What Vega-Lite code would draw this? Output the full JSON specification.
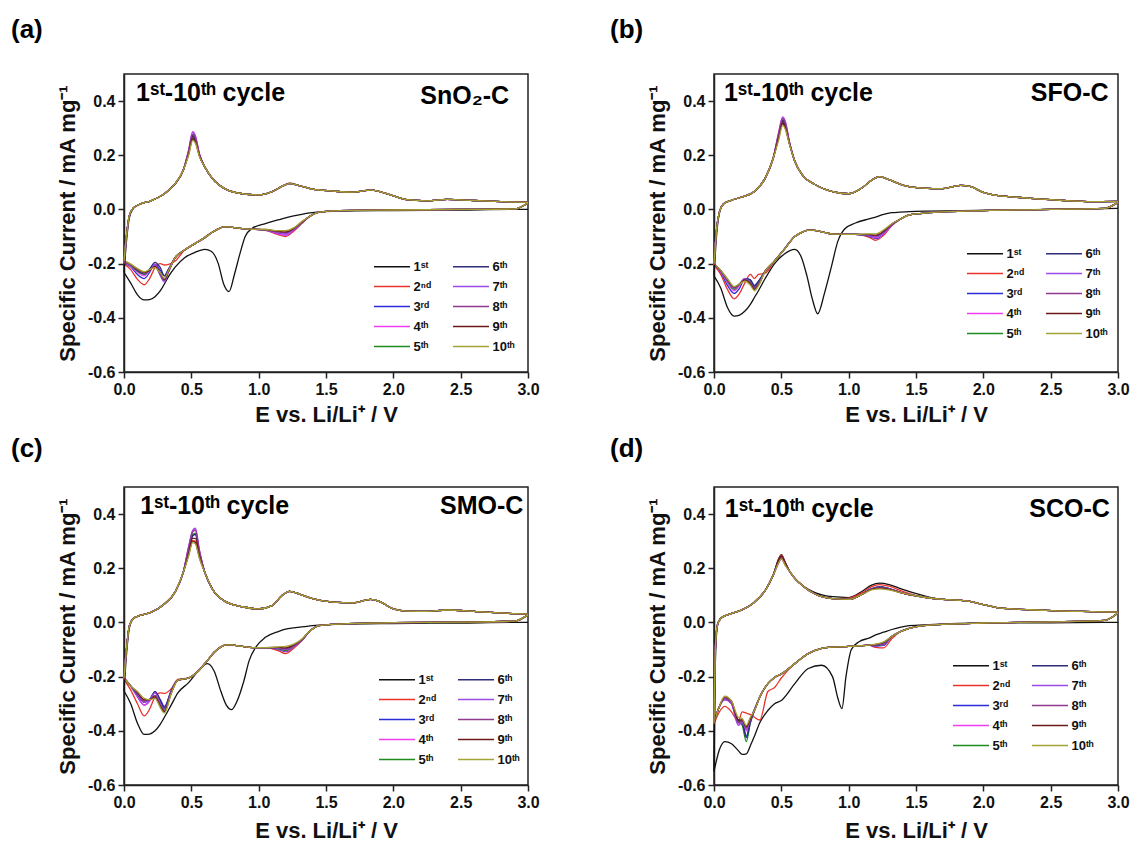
{
"$schema":"https://vega.github.io/schema/vega-lite/v6.json",
"background":"white",
"padding":{"left":10,"top":16,"right":5,"bottom":5},
"config":{
 "font":"Liberation Sans",
 "view":{"stroke":"#222","strokeWidth":1.5},
 "axis":{"grid":false,"domainColor":"#222","domainWidth":1.5,"tickColor":"#222","tickWidth":1.5,"labelFont":"Liberation Sans","labelFontSize":16,"labelFontWeight":"bold","labelColor":"#111","titleFont":"Liberation Sans","titleFontSize":22,"titleFontWeight":"bold","titleColor":"#111","labelOverlap":false,"labelFlush":false},
 "title":{"font":"Liberation Sans","fontSize":26,"fontWeight":"bold","anchor":"start","frame":"group","color":"#000"},
 "legend":{"orient":"none","columns":2,"title":null,"symbolType":"M-4,0H4","symbolSize":81,"symbolStrokeWidth":1.5,"symbolOffset":11.5,"labelOffset":15,"labelAlign":"left","labelFont":"Liberation Sans","labelFontSize":13,"labelFontWeight":"bold","labelColor":"#111","rowPadding":6,"columnPadding":19,"padding":0},
 "text":{"font":"Liberation Sans","fontSize":25,"fontWeight":"bold","color":"#000"}
},
"datasets":{"cv":[
{"p":"a","b":"k","x":3,"c1":0,"c2":0.024,"c3":0.024,"c4":0.024,"c5":0.024,"c6":0.024,"c7":0.024,"c8":0.024,"c9":0.024,"c10":0.024},
{"p":"a","b":"k","x":2.9,"c1":0,"c2":0.002,"c3":0.002,"c4":0.002,"c5":0.002,"c6":0.002,"c7":0.002,"c8":0.002,"c9":0.002,"c10":0.002},
{"p":"a","b":"k","x":2.5,"c1":-0.002,"c2":0,"c3":0,"c4":0,"c5":0,"c6":0,"c7":0,"c8":0,"c9":0,"c10":0},
{"p":"a","b":"k","x":2,"c1":-0.004,"c2":-0.002,"c3":-0.002,"c4":-0.002,"c5":-0.002,"c6":-0.002,"c7":-0.002,"c8":-0.002,"c9":-0.002,"c10":-0.002},
{"p":"a","b":"k","x":1.6,"c1":-0.006,"c2":-0.004,"c3":-0.004,"c4":-0.004,"c5":-0.004,"c6":-0.004,"c7":-0.004,"c8":-0.004,"c9":-0.004,"c10":-0.004},
{"p":"a","b":"k","x":1.45,"c1":-0.009,"c2":-0.01,"c3":-0.01,"c4":-0.01,"c5":-0.01,"c6":-0.01,"c7":-0.01,"c8":-0.01,"c9":-0.01,"c10":-0.01},
{"p":"a","b":"k","x":1.38,"c1":-0.013,"c2":-0.025,"c3":-0.025,"c4":-0.025,"c5":-0.025,"c6":-0.025,"c7":-0.025,"c8":-0.025,"c9":-0.025,"c10":-0.025},
{"p":"a","b":"k","x":1.32,"c1":-0.018,"c2":-0.052,"c3":-0.05,"c4":-0.05,"c5":-0.049,"c6":-0.048,"c7":-0.048,"c8":-0.047,"c9":-0.046,"c10":-0.045},
{"p":"a","b":"k","x":1.26,"c1":-0.024,"c2":-0.08,"c3":-0.076,"c4":-0.076,"c5":-0.073,"c6":-0.072,"c7":-0.073,"c8":-0.071,"c9":-0.07,"c10":-0.068},
{"p":"a","b":"k","x":1.2,"c1":-0.031,"c2":-0.1,"c3":-0.095,"c4":-0.095,"c5":-0.088,"c6":-0.088,"c7":-0.09,"c8":-0.085,"c9":-0.083,"c10":-0.078},
{"p":"a","b":"k","x":1.15,"c1":-0.038,"c2":-0.094,"c3":-0.09,"c4":-0.09,"c5":-0.085,"c6":-0.085,"c7":-0.086,"c8":-0.083,"c9":-0.081,"c10":-0.078},
{"p":"a","b":"k","x":1.05,"c1":-0.052,"c2":-0.077,"c3":-0.076,"c4":-0.076,"c5":-0.075,"c6":-0.075,"c7":-0.075,"c8":-0.075,"c9":-0.074,"c10":-0.074},
{"p":"a","b":"k","x":0.95,"c1":-0.07,"c2":-0.073,"c3":-0.073,"c4":-0.073,"c5":-0.073,"c6":-0.073,"c7":-0.073,"c8":-0.073,"c9":-0.073,"c10":-0.073},
{"p":"a","b":"k","x":0.9,"c1":-0.1,"c2":-0.072,"c3":-0.072,"c4":-0.072,"c5":-0.072,"c6":-0.072,"c7":-0.072,"c8":-0.072,"c9":-0.072,"c10":-0.072},
{"p":"a","b":"k","x":0.86,"c1":-0.165,"c2":-0.07,"c3":-0.07,"c4":-0.07,"c5":-0.07,"c6":-0.07,"c7":-0.07,"c8":-0.07,"c9":-0.07,"c10":-0.07},
{"p":"a","b":"k","x":0.82,"c1":-0.24,"c2":-0.067,"c3":-0.067,"c4":-0.067,"c5":-0.067,"c6":-0.067,"c7":-0.067,"c8":-0.067,"c9":-0.067,"c10":-0.067},
{"p":"a","b":"k","x":0.78,"c1":-0.303,"c2":-0.064,"c3":-0.064,"c4":-0.064,"c5":-0.064,"c6":-0.064,"c7":-0.064,"c8":-0.064,"c9":-0.064,"c10":-0.064},
{"p":"a","b":"k","x":0.74,"c1":-0.275,"c2":-0.064,"c3":-0.064,"c4":-0.064,"c5":-0.064,"c6":-0.064,"c7":-0.064,"c8":-0.064,"c9":-0.064,"c10":-0.064},
{"p":"a","b":"k","x":0.7,"c1":-0.2,"c2":-0.072,"c3":-0.072,"c4":-0.072,"c5":-0.072,"c6":-0.072,"c7":-0.072,"c8":-0.072,"c9":-0.072,"c10":-0.072},
{"p":"a","b":"k","x":0.65,"c1":-0.155,"c2":-0.086,"c3":-0.086,"c4":-0.086,"c5":-0.086,"c6":-0.086,"c7":-0.086,"c8":-0.086,"c9":-0.086,"c10":-0.086},
{"p":"a","b":"k","x":0.6,"c1":-0.147,"c2":-0.104,"c3":-0.104,"c4":-0.104,"c5":-0.104,"c6":-0.104,"c7":-0.104,"c8":-0.104,"c9":-0.104,"c10":-0.104},
{"p":"a","b":"k","x":0.52,"c1":-0.16,"c2":-0.128,"c3":-0.128,"c4":-0.128,"c5":-0.128,"c6":-0.128,"c7":-0.128,"c8":-0.128,"c9":-0.128,"c10":-0.128},
{"p":"a","b":"k","x":0.45,"c1":-0.178,"c2":-0.15,"c3":-0.15,"c4":-0.15,"c5":-0.15,"c6":-0.15,"c7":-0.15,"c8":-0.15,"c9":-0.15,"c10":-0.15},
{"p":"a","b":"k","x":0.38,"c1":-0.213,"c2":-0.19,"c3":-0.178,"c4":-0.178,"c5":-0.178,"c6":-0.178,"c7":-0.178,"c8":-0.178,"c9":-0.178,"c10":-0.178},
{"p":"a","b":"k","x":0.33,"c1":-0.248,"c2":-0.203,"c3":-0.22,"c4":-0.228,"c5":-0.226,"c6":-0.222,"c7":-0.232,"c8":-0.23,"c9":-0.228,"c10":-0.226},
{"p":"a","b":"k","x":0.3,"c1":-0.275,"c2":-0.205,"c3":-0.245,"c4":-0.262,"c5":-0.255,"c6":-0.245,"c7":-0.268,"c8":-0.262,"c9":-0.258,"c10":-0.255},
{"p":"a","b":"k","x":0.27,"c1":-0.3,"c2":-0.2,"c3":-0.225,"c4":-0.24,"c5":-0.24,"c6":-0.215,"c7":-0.245,"c8":-0.24,"c9":-0.235,"c10":-0.235},
{"p":"a","b":"k","x":0.23,"c1":-0.322,"c2":-0.215,"c3":-0.202,"c4":-0.205,"c5":-0.21,"c6":-0.195,"c7":-0.205,"c8":-0.21,"c9":-0.21,"c10":-0.215},
{"p":"a","b":"k","x":0.19,"c1":-0.333,"c2":-0.255,"c3":-0.232,"c4":-0.225,"c5":-0.225,"c6":-0.22,"c7":-0.225,"c8":-0.225,"c9":-0.225,"c10":-0.222},
{"p":"a","b":"k","x":0.15,"c1":-0.334,"c2":-0.278,"c3":-0.255,"c4":-0.245,"c5":-0.24,"c6":-0.238,"c7":-0.235,"c8":-0.235,"c9":-0.232,"c10":-0.23},
{"p":"a","b":"k","x":0.1,"c1":-0.315,"c2":-0.258,"c3":-0.24,"c4":-0.232,"c5":-0.228,"c6":-0.225,"c7":-0.222,"c8":-0.222,"c9":-0.22,"c10":-0.218},
{"p":"a","b":"k","x":0.05,"c1":-0.272,"c2":-0.222,"c3":-0.212,"c4":-0.21,"c5":-0.207,"c6":-0.205,"c7":-0.205,"c8":-0.204,"c9":-0.203,"c10":-0.202},
{"p":"a","b":"k","x":0,"c1":-0.233,"c2":-0.2,"c3":-0.196,"c4":-0.195,"c5":-0.193,"c6":-0.192,"c7":-0.192,"c8":-0.191,"c9":-0.19,"c10":-0.19},
{"p":"a","b":"o","x":0,"c1":-0.233,"c2":-0.2,"c3":-0.196,"c4":-0.195,"c5":-0.193,"c6":-0.192,"c7":-0.192,"c8":-0.191,"c9":-0.19,"c10":-0.19},
{"p":"a","b":"o","x":0.02,"c1":-0.11,"c2":-0.09,"c3":-0.09,"c4":-0.09,"c5":-0.09,"c6":-0.09,"c7":-0.09,"c8":-0.09,"c9":-0.09,"c10":-0.09},
{"p":"a","b":"o","x":0.04,"c1":-0.03,"c2":-0.022,"c3":-0.022,"c4":-0.022,"c5":-0.022,"c6":-0.022,"c7":-0.022,"c8":-0.022,"c9":-0.022,"c10":-0.022},
{"p":"a","b":"o","x":0.07,"c1":0.004,"c2":0.006,"c3":0.006,"c4":0.006,"c5":0.006,"c6":0.006,"c7":0.006,"c8":0.006,"c9":0.006,"c10":0.006},
{"p":"a","b":"o","x":0.12,"c1":0.02,"c2":0.02,"c3":0.02,"c4":0.02,"c5":0.02,"c6":0.02,"c7":0.02,"c8":0.02,"c9":0.02,"c10":0.02},
{"p":"a","b":"o","x":0.2,"c1":0.032,"c2":0.032,"c3":0.032,"c4":0.032,"c5":0.032,"c6":0.032,"c7":0.032,"c8":0.032,"c9":0.032,"c10":0.032},
{"p":"a","b":"o","x":0.3,"c1":0.058,"c2":0.058,"c3":0.058,"c4":0.058,"c5":0.058,"c6":0.058,"c7":0.058,"c8":0.058,"c9":0.058,"c10":0.058},
{"p":"a","b":"o","x":0.38,"c1":0.095,"c2":0.095,"c3":0.095,"c4":0.095,"c5":0.095,"c6":0.095,"c7":0.095,"c8":0.095,"c9":0.095,"c10":0.095},
{"p":"a","b":"o","x":0.44,"c1":0.145,"c2":0.145,"c3":0.145,"c4":0.145,"c5":0.145,"c6":0.145,"c7":0.145,"c8":0.145,"c9":0.145,"c10":0.145},
{"p":"a","b":"o","x":0.48,"c1":0.205,"c2":0.21,"c3":0.212,"c4":0.22,"c5":0.212,"c6":0.21,"c7":0.218,"c8":0.215,"c9":0.205,"c10":0.2},
{"p":"a","b":"o","x":0.51,"c1":0.258,"c2":0.268,"c3":0.274,"c4":0.287,"c5":0.274,"c6":0.272,"c7":0.285,"c8":0.278,"c9":0.264,"c10":0.255},
{"p":"a","b":"o","x":0.53,"c1":0.25,"c2":0.258,"c3":0.262,"c4":0.272,"c5":0.262,"c6":0.26,"c7":0.27,"c8":0.265,"c9":0.252,"c10":0.245},
{"p":"a","b":"o","x":0.56,"c1":0.198,"c2":0.2,"c3":0.202,"c4":0.206,"c5":0.202,"c6":0.2,"c7":0.205,"c8":0.203,"c9":0.198,"c10":0.195},
{"p":"a","b":"o","x":0.6,"c1":0.157,"c2":0.157,"c3":0.157,"c4":0.157,"c5":0.157,"c6":0.157,"c7":0.157,"c8":0.157,"c9":0.157,"c10":0.157},
{"p":"a","b":"o","x":0.66,"c1":0.112,"c2":0.112,"c3":0.112,"c4":0.112,"c5":0.112,"c6":0.112,"c7":0.112,"c8":0.112,"c9":0.112,"c10":0.112},
{"p":"a","b":"o","x":0.75,"c1":0.076,"c2":0.076,"c3":0.076,"c4":0.076,"c5":0.076,"c6":0.076,"c7":0.076,"c8":0.076,"c9":0.076,"c10":0.076},
{"p":"a","b":"o","x":0.88,"c1":0.058,"c2":0.058,"c3":0.058,"c4":0.058,"c5":0.058,"c6":0.058,"c7":0.058,"c8":0.058,"c9":0.058,"c10":0.058},
{"p":"a","b":"o","x":1,"c1":0.054,"c2":0.054,"c3":0.054,"c4":0.054,"c5":0.054,"c6":0.054,"c7":0.054,"c8":0.054,"c9":0.054,"c10":0.054},
{"p":"a","b":"o","x":1.1,"c1":0.066,"c2":0.066,"c3":0.066,"c4":0.066,"c5":0.066,"c6":0.066,"c7":0.066,"c8":0.066,"c9":0.066,"c10":0.066},
{"p":"a","b":"o","x":1.17,"c1":0.084,"c2":0.084,"c3":0.084,"c4":0.084,"c5":0.084,"c6":0.084,"c7":0.084,"c8":0.084,"c9":0.084,"c10":0.084},
{"p":"a","b":"o","x":1.23,"c1":0.095,"c2":0.095,"c3":0.095,"c4":0.095,"c5":0.095,"c6":0.095,"c7":0.095,"c8":0.096,"c9":0.097,"c10":0.095},
{"p":"a","b":"o","x":1.3,"c1":0.088,"c2":0.088,"c3":0.088,"c4":0.088,"c5":0.088,"c6":0.088,"c7":0.088,"c8":0.088,"c9":0.088,"c10":0.088},
{"p":"a","b":"o","x":1.4,"c1":0.075,"c2":0.075,"c3":0.075,"c4":0.075,"c5":0.075,"c6":0.075,"c7":0.075,"c8":0.075,"c9":0.075,"c10":0.075},
{"p":"a","b":"o","x":1.55,"c1":0.068,"c2":0.068,"c3":0.068,"c4":0.068,"c5":0.068,"c6":0.068,"c7":0.068,"c8":0.068,"c9":0.068,"c10":0.068},
{"p":"a","b":"o","x":1.7,"c1":0.064,"c2":0.064,"c3":0.064,"c4":0.064,"c5":0.064,"c6":0.064,"c7":0.064,"c8":0.064,"c9":0.064,"c10":0.064},
{"p":"a","b":"o","x":1.83,"c1":0.071,"c2":0.071,"c3":0.071,"c4":0.071,"c5":0.071,"c6":0.071,"c7":0.071,"c8":0.071,"c9":0.071,"c10":0.071},
{"p":"a","b":"o","x":1.9,"c1":0.066,"c2":0.066,"c3":0.066,"c4":0.066,"c5":0.066,"c6":0.066,"c7":0.066,"c8":0.066,"c9":0.066,"c10":0.066},
{"p":"a","b":"o","x":2,"c1":0.05,"c2":0.05,"c3":0.05,"c4":0.05,"c5":0.05,"c6":0.05,"c7":0.05,"c8":0.05,"c9":0.05,"c10":0.05},
{"p":"a","b":"o","x":2.1,"c1":0.036,"c2":0.036,"c3":0.036,"c4":0.036,"c5":0.036,"c6":0.036,"c7":0.036,"c8":0.036,"c9":0.036,"c10":0.036},
{"p":"a","b":"o","x":2.25,"c1":0.032,"c2":0.032,"c3":0.032,"c4":0.032,"c5":0.032,"c6":0.032,"c7":0.032,"c8":0.032,"c9":0.032,"c10":0.032},
{"p":"a","b":"o","x":2.4,"c1":0.037,"c2":0.037,"c3":0.037,"c4":0.037,"c5":0.037,"c6":0.037,"c7":0.037,"c8":0.037,"c9":0.037,"c10":0.037},
{"p":"a","b":"o","x":2.6,"c1":0.033,"c2":0.033,"c3":0.033,"c4":0.033,"c5":0.033,"c6":0.033,"c7":0.033,"c8":0.033,"c9":0.033,"c10":0.033},
{"p":"a","b":"o","x":2.8,"c1":0.029,"c2":0.029,"c3":0.029,"c4":0.029,"c5":0.029,"c6":0.029,"c7":0.029,"c8":0.029,"c9":0.029,"c10":0.029},
{"p":"a","b":"o","x":3,"c1":0.026,"c2":0.026,"c3":0.026,"c4":0.026,"c5":0.026,"c6":0.026,"c7":0.026,"c8":0.026,"c9":0.026,"c10":0.026},

{"p":"b","b":"k","x":3,"c1":0.004,"c2":0.026,"c3":0.026,"c4":0.026,"c5":0.026,"c6":0.026,"c7":0.026,"c8":0.026,"c9":0.026,"c10":0.026},
{"p":"b","b":"k","x":2.9,"c1":0.003,"c2":0.004,"c3":0.004,"c4":0.004,"c5":0.004,"c6":0.004,"c7":0.004,"c8":0.004,"c9":0.004,"c10":0.004},
{"p":"b","b":"k","x":2.5,"c1":0,"c2":0,"c3":0,"c4":0,"c5":0,"c6":0,"c7":0,"c8":0,"c9":0,"c10":0},
{"p":"b","b":"k","x":2,"c1":-0.003,"c2":-0.004,"c3":-0.004,"c4":-0.004,"c5":-0.004,"c6":-0.004,"c7":-0.004,"c8":-0.004,"c9":-0.004,"c10":-0.004},
{"p":"b","b":"k","x":1.6,"c1":-0.006,"c2":-0.012,"c3":-0.012,"c4":-0.012,"c5":-0.012,"c6":-0.012,"c7":-0.012,"c8":-0.012,"c9":-0.012,"c10":-0.012},
{"p":"b","b":"k","x":1.45,"c1":-0.008,"c2":-0.02,"c3":-0.02,"c4":-0.02,"c5":-0.02,"c6":-0.02,"c7":-0.02,"c8":-0.02,"c9":-0.02,"c10":-0.02},
{"p":"b","b":"k","x":1.38,"c1":-0.01,"c2":-0.037,"c3":-0.037,"c4":-0.037,"c5":-0.037,"c6":-0.037,"c7":-0.037,"c8":-0.037,"c9":-0.037,"c10":-0.037},
{"p":"b","b":"k","x":1.32,"c1":-0.012,"c2":-0.06,"c3":-0.058,"c4":-0.058,"c5":-0.056,"c6":-0.056,"c7":-0.056,"c8":-0.055,"c9":-0.054,"c10":-0.053},
{"p":"b","b":"k","x":1.26,"c1":-0.018,"c2":-0.095,"c3":-0.09,"c4":-0.09,"c5":-0.085,"c6":-0.085,"c7":-0.085,"c8":-0.082,"c9":-0.08,"c10":-0.075},
{"p":"b","b":"k","x":1.2,"c1":-0.028,"c2":-0.114,"c3":-0.108,"c4":-0.105,"c5":-0.1,"c6":-0.1,"c7":-0.1,"c8":-0.097,"c9":-0.095,"c10":-0.09},
{"p":"b","b":"k","x":1.15,"c1":-0.035,"c2":-0.102,"c3":-0.098,"c4":-0.097,"c5":-0.095,"c6":-0.095,"c7":-0.095,"c8":-0.093,"c9":-0.092,"c10":-0.09},
{"p":"b","b":"k","x":1.05,"c1":-0.05,"c2":-0.092,"c3":-0.092,"c4":-0.092,"c5":-0.092,"c6":-0.092,"c7":-0.092,"c8":-0.092,"c9":-0.092,"c10":-0.092},
{"p":"b","b":"k","x":0.97,"c1":-0.072,"c2":-0.092,"c3":-0.092,"c4":-0.092,"c5":-0.092,"c6":-0.092,"c7":-0.092,"c8":-0.092,"c9":-0.092,"c10":-0.092},
{"p":"b","b":"k","x":0.92,"c1":-0.117,"c2":-0.091,"c3":-0.091,"c4":-0.091,"c5":-0.091,"c6":-0.091,"c7":-0.091,"c8":-0.091,"c9":-0.091,"c10":-0.091},
{"p":"b","b":"k","x":0.87,"c1":-0.215,"c2":-0.09,"c3":-0.09,"c4":-0.09,"c5":-0.09,"c6":-0.09,"c7":-0.09,"c8":-0.09,"c9":-0.09,"c10":-0.09},
{"p":"b","b":"k","x":0.82,"c1":-0.31,"c2":-0.085,"c3":-0.085,"c4":-0.085,"c5":-0.085,"c6":-0.085,"c7":-0.085,"c8":-0.085,"c9":-0.085,"c10":-0.085},
{"p":"b","b":"k","x":0.77,"c1":-0.385,"c2":-0.079,"c3":-0.079,"c4":-0.079,"c5":-0.079,"c6":-0.079,"c7":-0.079,"c8":-0.079,"c9":-0.079,"c10":-0.079},
{"p":"b","b":"k","x":0.73,"c1":-0.33,"c2":-0.076,"c3":-0.076,"c4":-0.076,"c5":-0.076,"c6":-0.076,"c7":-0.076,"c8":-0.076,"c9":-0.076,"c10":-0.076},
{"p":"b","b":"k","x":0.69,"c1":-0.245,"c2":-0.077,"c3":-0.077,"c4":-0.077,"c5":-0.077,"c6":-0.077,"c7":-0.077,"c8":-0.077,"c9":-0.077,"c10":-0.077},
{"p":"b","b":"k","x":0.65,"c1":-0.178,"c2":-0.085,"c3":-0.085,"c4":-0.085,"c5":-0.085,"c6":-0.085,"c7":-0.085,"c8":-0.085,"c9":-0.085,"c10":-0.085},
{"p":"b","b":"k","x":0.6,"c1":-0.147,"c2":-0.1,"c3":-0.1,"c4":-0.1,"c5":-0.1,"c6":-0.1,"c7":-0.1,"c8":-0.1,"c9":-0.1,"c10":-0.1},
{"p":"b","b":"k","x":0.52,"c1":-0.165,"c2":-0.148,"c3":-0.148,"c4":-0.148,"c5":-0.148,"c6":-0.148,"c7":-0.148,"c8":-0.148,"c9":-0.148,"c10":-0.148},
{"p":"b","b":"k","x":0.45,"c1":-0.2,"c2":-0.19,"c3":-0.19,"c4":-0.19,"c5":-0.19,"c6":-0.19,"c7":-0.19,"c8":-0.19,"c9":-0.19,"c10":-0.19},
{"p":"b","b":"k","x":0.38,"c1":-0.255,"c2":-0.235,"c3":-0.228,"c4":-0.228,"c5":-0.228,"c6":-0.228,"c7":-0.228,"c8":-0.228,"c9":-0.228,"c10":-0.228},
{"p":"b","b":"k","x":0.33,"c1":-0.3,"c2":-0.24,"c3":-0.265,"c4":-0.272,"c5":-0.268,"c6":-0.266,"c7":-0.276,"c8":-0.276,"c9":-0.28,"c10":-0.282},
{"p":"b","b":"k","x":0.3,"c1":-0.325,"c2":-0.255,"c3":-0.28,"c4":-0.29,"c5":-0.285,"c6":-0.285,"c7":-0.29,"c8":-0.29,"c9":-0.295,"c10":-0.3},
{"p":"b","b":"k","x":0.27,"c1":-0.35,"c2":-0.24,"c3":-0.26,"c4":-0.265,"c5":-0.265,"c6":-0.26,"c7":-0.27,"c8":-0.27,"c9":-0.275,"c10":-0.28},
{"p":"b","b":"k","x":0.23,"c1":-0.375,"c2":-0.27,"c3":-0.255,"c4":-0.255,"c5":-0.26,"c6":-0.255,"c7":-0.255,"c8":-0.26,"c9":-0.26,"c10":-0.265},
{"p":"b","b":"k","x":0.19,"c1":-0.39,"c2":-0.31,"c3":-0.29,"c4":-0.28,"c5":-0.275,"c6":-0.275,"c7":-0.275,"c8":-0.275,"c9":-0.275,"c10":-0.275},
{"p":"b","b":"k","x":0.15,"c1":-0.394,"c2":-0.33,"c3":-0.31,"c4":-0.3,"c5":-0.295,"c6":-0.29,"c7":-0.29,"c8":-0.288,"c9":-0.286,"c10":-0.285},
{"p":"b","b":"k","x":0.1,"c1":-0.362,"c2":-0.295,"c3":-0.28,"c4":-0.27,"c5":-0.265,"c6":-0.262,"c7":-0.262,"c8":-0.26,"c9":-0.258,"c10":-0.256},
{"p":"b","b":"k","x":0.05,"c1":-0.29,"c2":-0.24,"c3":-0.232,"c4":-0.23,"c5":-0.228,"c6":-0.227,"c7":-0.227,"c8":-0.226,"c9":-0.225,"c10":-0.225},
{"p":"b","b":"k","x":0,"c1":-0.245,"c2":-0.205,"c3":-0.2,"c4":-0.2,"c5":-0.2,"c6":-0.2,"c7":-0.2,"c8":-0.2,"c9":-0.2,"c10":-0.2},
{"p":"b","b":"o","x":0,"c1":-0.245,"c2":-0.205,"c3":-0.2,"c4":-0.2,"c5":-0.2,"c6":-0.2,"c7":-0.2,"c8":-0.2,"c9":-0.2,"c10":-0.2},
{"p":"b","b":"o","x":0.02,"c1":-0.09,"c2":-0.07,"c3":-0.07,"c4":-0.07,"c5":-0.07,"c6":-0.07,"c7":-0.07,"c8":-0.07,"c9":-0.07,"c10":-0.07},
{"p":"b","b":"o","x":0.04,"c1":-0.015,"c2":-0.01,"c3":-0.01,"c4":-0.01,"c5":-0.01,"c6":-0.01,"c7":-0.01,"c8":-0.01,"c9":-0.01,"c10":-0.01},
{"p":"b","b":"o","x":0.07,"c1":0.02,"c2":0.02,"c3":0.02,"c4":0.02,"c5":0.02,"c6":0.02,"c7":0.02,"c8":0.02,"c9":0.02,"c10":0.02},
{"p":"b","b":"o","x":0.12,"c1":0.032,"c2":0.032,"c3":0.032,"c4":0.032,"c5":0.032,"c6":0.032,"c7":0.032,"c8":0.032,"c9":0.032,"c10":0.032},
{"p":"b","b":"o","x":0.2,"c1":0.045,"c2":0.045,"c3":0.045,"c4":0.045,"c5":0.045,"c6":0.045,"c7":0.045,"c8":0.045,"c9":0.045,"c10":0.045},
{"p":"b","b":"o","x":0.3,"c1":0.066,"c2":0.066,"c3":0.066,"c4":0.066,"c5":0.066,"c6":0.066,"c7":0.066,"c8":0.066,"c9":0.066,"c10":0.066},
{"p":"b","b":"o","x":0.38,"c1":0.115,"c2":0.115,"c3":0.115,"c4":0.115,"c5":0.115,"c6":0.115,"c7":0.115,"c8":0.115,"c9":0.115,"c10":0.115},
{"p":"b","b":"o","x":0.44,"c1":0.19,"c2":0.19,"c3":0.19,"c4":0.19,"c5":0.19,"c6":0.19,"c7":0.19,"c8":0.19,"c9":0.19,"c10":0.19},
{"p":"b","b":"o","x":0.48,"c1":0.265,"c2":0.268,"c3":0.272,"c4":0.285,"c5":0.272,"c6":0.272,"c7":0.282,"c8":0.278,"c9":0.265,"c10":0.255},
{"p":"b","b":"o","x":0.51,"c1":0.318,"c2":0.325,"c3":0.33,"c4":0.342,"c5":0.33,"c6":0.33,"c7":0.34,"c8":0.335,"c9":0.32,"c10":0.31},
{"p":"b","b":"o","x":0.53,"c1":0.3,"c2":0.308,"c3":0.312,"c4":0.325,"c5":0.312,"c6":0.31,"c7":0.322,"c8":0.318,"c9":0.302,"c10":0.295},
{"p":"b","b":"o","x":0.56,"c1":0.245,"c2":0.245,"c3":0.246,"c4":0.25,"c5":0.246,"c6":0.245,"c7":0.249,"c8":0.247,"c9":0.243,"c10":0.24},
{"p":"b","b":"o","x":0.6,"c1":0.178,"c2":0.178,"c3":0.178,"c4":0.178,"c5":0.178,"c6":0.178,"c7":0.178,"c8":0.178,"c9":0.178,"c10":0.178},
{"p":"b","b":"o","x":0.66,"c1":0.125,"c2":0.125,"c3":0.125,"c4":0.125,"c5":0.125,"c6":0.125,"c7":0.125,"c8":0.125,"c9":0.125,"c10":0.125},
{"p":"b","b":"o","x":0.75,"c1":0.092,"c2":0.092,"c3":0.092,"c4":0.092,"c5":0.092,"c6":0.092,"c7":0.092,"c8":0.092,"c9":0.092,"c10":0.092},
{"p":"b","b":"o","x":0.88,"c1":0.066,"c2":0.066,"c3":0.066,"c4":0.066,"c5":0.066,"c6":0.066,"c7":0.066,"c8":0.066,"c9":0.066,"c10":0.066},
{"p":"b","b":"o","x":1,"c1":0.058,"c2":0.058,"c3":0.058,"c4":0.058,"c5":0.058,"c6":0.058,"c7":0.058,"c8":0.058,"c9":0.058,"c10":0.058},
{"p":"b","b":"o","x":1.1,"c1":0.08,"c2":0.08,"c3":0.08,"c4":0.08,"c5":0.08,"c6":0.08,"c7":0.08,"c8":0.08,"c9":0.08,"c10":0.08},
{"p":"b","b":"o","x":1.17,"c1":0.108,"c2":0.108,"c3":0.108,"c4":0.108,"c5":0.108,"c6":0.108,"c7":0.108,"c8":0.108,"c9":0.108,"c10":0.108},
{"p":"b","b":"o","x":1.23,"c1":0.121,"c2":0.121,"c3":0.121,"c4":0.121,"c5":0.121,"c6":0.121,"c7":0.121,"c8":0.121,"c9":0.121,"c10":0.121},
{"p":"b","b":"o","x":1.3,"c1":0.11,"c2":0.11,"c3":0.11,"c4":0.11,"c5":0.11,"c6":0.11,"c7":0.11,"c8":0.11,"c9":0.11,"c10":0.11},
{"p":"b","b":"o","x":1.4,"c1":0.09,"c2":0.09,"c3":0.09,"c4":0.09,"c5":0.09,"c6":0.09,"c7":0.09,"c8":0.09,"c9":0.09,"c10":0.09},
{"p":"b","b":"o","x":1.55,"c1":0.079,"c2":0.079,"c3":0.079,"c4":0.079,"c5":0.079,"c6":0.079,"c7":0.079,"c8":0.079,"c9":0.079,"c10":0.079},
{"p":"b","b":"o","x":1.7,"c1":0.077,"c2":0.077,"c3":0.077,"c4":0.077,"c5":0.077,"c6":0.077,"c7":0.077,"c8":0.077,"c9":0.077,"c10":0.077},
{"p":"b","b":"o","x":1.83,"c1":0.089,"c2":0.089,"c3":0.089,"c4":0.089,"c5":0.089,"c6":0.089,"c7":0.089,"c8":0.089,"c9":0.089,"c10":0.089},
{"p":"b","b":"o","x":1.9,"c1":0.085,"c2":0.085,"c3":0.085,"c4":0.085,"c5":0.085,"c6":0.085,"c7":0.085,"c8":0.085,"c9":0.085,"c10":0.085},
{"p":"b","b":"o","x":2,"c1":0.063,"c2":0.063,"c3":0.063,"c4":0.063,"c5":0.063,"c6":0.063,"c7":0.063,"c8":0.063,"c9":0.063,"c10":0.063},
{"p":"b","b":"o","x":2.1,"c1":0.052,"c2":0.052,"c3":0.052,"c4":0.052,"c5":0.052,"c6":0.052,"c7":0.052,"c8":0.052,"c9":0.052,"c10":0.052},
{"p":"b","b":"o","x":2.25,"c1":0.045,"c2":0.045,"c3":0.045,"c4":0.045,"c5":0.045,"c6":0.045,"c7":0.045,"c8":0.045,"c9":0.045,"c10":0.045},
{"p":"b","b":"o","x":2.4,"c1":0.039,"c2":0.039,"c3":0.039,"c4":0.039,"c5":0.039,"c6":0.039,"c7":0.039,"c8":0.039,"c9":0.039,"c10":0.039},
{"p":"b","b":"o","x":2.6,"c1":0.033,"c2":0.033,"c3":0.033,"c4":0.033,"c5":0.033,"c6":0.033,"c7":0.033,"c8":0.033,"c9":0.033,"c10":0.033},
{"p":"b","b":"o","x":2.8,"c1":0.029,"c2":0.029,"c3":0.029,"c4":0.029,"c5":0.029,"c6":0.029,"c7":0.029,"c8":0.029,"c9":0.029,"c10":0.029},
{"p":"b","b":"o","x":3,"c1":0.03,"c2":0.03,"c3":0.03,"c4":0.03,"c5":0.03,"c6":0.03,"c7":0.03,"c8":0.03,"c9":0.03,"c10":0.03},

{"p":"c","b":"k","x":3,"c1":0,"c2":0.028,"c3":0.028,"c4":0.028,"c5":0.028,"c6":0.028,"c7":0.028,"c8":0.028,"c9":0.028,"c10":0.028},
{"p":"c","b":"k","x":2.9,"c1":0,"c2":0.005,"c3":0.005,"c4":0.005,"c5":0.005,"c6":0.005,"c7":0.005,"c8":0.005,"c9":0.005,"c10":0.005},
{"p":"c","b":"k","x":2.5,"c1":-0.002,"c2":0.001,"c3":0.001,"c4":0.001,"c5":0.001,"c6":0.001,"c7":0.001,"c8":0.001,"c9":0.001,"c10":0.001},
{"p":"c","b":"k","x":2,"c1":-0.004,"c2":-0.001,"c3":-0.001,"c4":-0.001,"c5":-0.001,"c6":-0.001,"c7":-0.001,"c8":-0.001,"c9":-0.001,"c10":-0.001},
{"p":"c","b":"k","x":1.6,"c1":-0.007,"c2":-0.006,"c3":-0.006,"c4":-0.006,"c5":-0.006,"c6":-0.006,"c7":-0.006,"c8":-0.006,"c9":-0.006,"c10":-0.006},
{"p":"c","b":"k","x":1.45,"c1":-0.01,"c2":-0.012,"c3":-0.012,"c4":-0.012,"c5":-0.012,"c6":-0.012,"c7":-0.012,"c8":-0.012,"c9":-0.012,"c10":-0.012},
{"p":"c","b":"k","x":1.38,"c1":-0.013,"c2":-0.032,"c3":-0.032,"c4":-0.032,"c5":-0.032,"c6":-0.032,"c7":-0.032,"c8":-0.032,"c9":-0.032,"c10":-0.032},
{"p":"c","b":"k","x":1.32,"c1":-0.016,"c2":-0.068,"c3":-0.066,"c4":-0.066,"c5":-0.065,"c6":-0.065,"c7":-0.065,"c8":-0.064,"c9":-0.063,"c10":-0.062},
{"p":"c","b":"k","x":1.26,"c1":-0.02,"c2":-0.095,"c3":-0.09,"c4":-0.09,"c5":-0.088,"c6":-0.087,"c7":-0.087,"c8":-0.085,"c9":-0.083,"c10":-0.08},
{"p":"c","b":"k","x":1.2,"c1":-0.025,"c2":-0.115,"c3":-0.108,"c4":-0.106,"c5":-0.104,"c6":-0.1,"c7":-0.1,"c8":-0.097,"c9":-0.094,"c10":-0.088},
{"p":"c","b":"k","x":1.15,"c1":-0.033,"c2":-0.105,"c3":-0.1,"c4":-0.099,"c5":-0.098,"c6":-0.096,"c7":-0.096,"c8":-0.094,"c9":-0.092,"c10":-0.09},
{"p":"c","b":"k","x":1.05,"c1":-0.055,"c2":-0.093,"c3":-0.093,"c4":-0.093,"c5":-0.093,"c6":-0.093,"c7":-0.093,"c8":-0.093,"c9":-0.093,"c10":-0.093},
{"p":"c","b":"k","x":0.98,"c1":-0.09,"c2":-0.093,"c3":-0.093,"c4":-0.093,"c5":-0.093,"c6":-0.093,"c7":-0.093,"c8":-0.093,"c9":-0.093,"c10":-0.093},
{"p":"c","b":"k","x":0.93,"c1":-0.14,"c2":-0.092,"c3":-0.092,"c4":-0.092,"c5":-0.092,"c6":-0.092,"c7":-0.092,"c8":-0.092,"c9":-0.092,"c10":-0.092},
{"p":"c","b":"k","x":0.89,"c1":-0.216,"c2":-0.089,"c3":-0.089,"c4":-0.089,"c5":-0.089,"c6":-0.089,"c7":-0.089,"c8":-0.089,"c9":-0.089,"c10":-0.089},
{"p":"c","b":"k","x":0.84,"c1":-0.29,"c2":-0.086,"c3":-0.086,"c4":-0.086,"c5":-0.086,"c6":-0.086,"c7":-0.086,"c8":-0.086,"c9":-0.086,"c10":-0.086},
{"p":"c","b":"k","x":0.8,"c1":-0.322,"c2":-0.083,"c3":-0.083,"c4":-0.083,"c5":-0.083,"c6":-0.083,"c7":-0.083,"c8":-0.083,"c9":-0.083,"c10":-0.083},
{"p":"c","b":"k","x":0.76,"c1":-0.305,"c2":-0.083,"c3":-0.083,"c4":-0.083,"c5":-0.083,"c6":-0.083,"c7":-0.083,"c8":-0.083,"c9":-0.083,"c10":-0.083},
{"p":"c","b":"k","x":0.72,"c1":-0.255,"c2":-0.09,"c3":-0.09,"c4":-0.09,"c5":-0.09,"c6":-0.09,"c7":-0.09,"c8":-0.09,"c9":-0.09,"c10":-0.09},
{"p":"c","b":"k","x":0.67,"c1":-0.18,"c2":-0.11,"c3":-0.11,"c4":-0.11,"c5":-0.11,"c6":-0.11,"c7":-0.11,"c8":-0.11,"c9":-0.11,"c10":-0.11},
{"p":"c","b":"k","x":0.62,"c1":-0.152,"c2":-0.14,"c3":-0.14,"c4":-0.14,"c5":-0.14,"c6":-0.14,"c7":-0.14,"c8":-0.14,"c9":-0.14,"c10":-0.14},
{"p":"c","b":"k","x":0.55,"c1":-0.18,"c2":-0.18,"c3":-0.18,"c4":-0.18,"c5":-0.18,"c6":-0.18,"c7":-0.18,"c8":-0.18,"c9":-0.18,"c10":-0.18},
{"p":"c","b":"k","x":0.48,"c1":-0.222,"c2":-0.205,"c3":-0.205,"c4":-0.205,"c5":-0.205,"c6":-0.205,"c7":-0.205,"c8":-0.205,"c9":-0.205,"c10":-0.205},
{"p":"c","b":"k","x":0.4,"c1":-0.26,"c2":-0.21,"c3":-0.213,"c4":-0.213,"c5":-0.213,"c6":-0.213,"c7":-0.213,"c8":-0.213,"c9":-0.213,"c10":-0.213},
{"p":"c","b":"k","x":0.35,"c1":-0.305,"c2":-0.245,"c3":-0.252,"c4":-0.255,"c5":-0.256,"c6":-0.254,"c7":-0.258,"c8":-0.26,"c9":-0.262,"c10":-0.264},
{"p":"c","b":"k","x":0.3,"c1":-0.35,"c2":-0.262,"c3":-0.31,"c4":-0.32,"c5":-0.32,"c6":-0.315,"c7":-0.325,"c8":-0.328,"c9":-0.33,"c10":-0.335},
{"p":"c","b":"k","x":0.27,"c1":-0.375,"c2":-0.26,"c3":-0.285,"c4":-0.295,"c5":-0.3,"c6":-0.29,"c7":-0.3,"c8":-0.305,"c9":-0.31,"c10":-0.315},
{"p":"c","b":"k","x":0.23,"c1":-0.4,"c2":-0.275,"c3":-0.255,"c4":-0.26,"c5":-0.27,"c6":-0.255,"c7":-0.26,"c8":-0.27,"c9":-0.275,"c10":-0.28},
{"p":"c","b":"k","x":0.19,"c1":-0.412,"c2":-0.32,"c3":-0.29,"c4":-0.29,"c5":-0.285,"c6":-0.285,"c7":-0.285,"c8":-0.285,"c9":-0.285,"c10":-0.285},
{"p":"c","b":"k","x":0.15,"c1":-0.413,"c2":-0.345,"c3":-0.305,"c4":-0.305,"c5":-0.29,"c6":-0.295,"c7":-0.295,"c8":-0.29,"c9":-0.285,"c10":-0.28},
{"p":"c","b":"k","x":0.1,"c1":-0.372,"c2":-0.3,"c3":-0.275,"c4":-0.272,"c5":-0.265,"c6":-0.265,"c7":-0.262,"c8":-0.26,"c9":-0.258,"c10":-0.255},
{"p":"c","b":"k","x":0.05,"c1":-0.3,"c2":-0.25,"c3":-0.235,"c4":-0.235,"c5":-0.235,"c6":-0.235,"c7":-0.235,"c8":-0.235,"c9":-0.235,"c10":-0.235},
{"p":"c","b":"k","x":0,"c1":-0.253,"c2":-0.21,"c3":-0.205,"c4":-0.205,"c5":-0.205,"c6":-0.205,"c7":-0.205,"c8":-0.205,"c9":-0.205,"c10":-0.205},
{"p":"c","b":"o","x":0,"c1":-0.253,"c2":-0.21,"c3":-0.205,"c4":-0.205,"c5":-0.205,"c6":-0.205,"c7":-0.205,"c8":-0.205,"c9":-0.205,"c10":-0.205},
{"p":"c","b":"o","x":0.02,"c1":-0.11,"c2":-0.09,"c3":-0.09,"c4":-0.09,"c5":-0.09,"c6":-0.09,"c7":-0.09,"c8":-0.09,"c9":-0.09,"c10":-0.09},
{"p":"c","b":"o","x":0.04,"c1":-0.02,"c2":-0.012,"c3":-0.012,"c4":-0.012,"c5":-0.012,"c6":-0.012,"c7":-0.012,"c8":-0.012,"c9":-0.012,"c10":-0.012},
{"p":"c","b":"o","x":0.07,"c1":0.015,"c2":0.015,"c3":0.015,"c4":0.015,"c5":0.015,"c6":0.015,"c7":0.015,"c8":0.015,"c9":0.015,"c10":0.015},
{"p":"c","b":"o","x":0.12,"c1":0.026,"c2":0.026,"c3":0.026,"c4":0.026,"c5":0.026,"c6":0.026,"c7":0.026,"c8":0.026,"c9":0.026,"c10":0.026},
{"p":"c","b":"o","x":0.2,"c1":0.037,"c2":0.037,"c3":0.037,"c4":0.037,"c5":0.037,"c6":0.037,"c7":0.037,"c8":0.037,"c9":0.037,"c10":0.037},
{"p":"c","b":"o","x":0.3,"c1":0.068,"c2":0.068,"c3":0.068,"c4":0.068,"c5":0.068,"c6":0.068,"c7":0.068,"c8":0.068,"c9":0.068,"c10":0.068},
{"p":"c","b":"o","x":0.38,"c1":0.113,"c2":0.113,"c3":0.113,"c4":0.113,"c5":0.113,"c6":0.113,"c7":0.113,"c8":0.113,"c9":0.113,"c10":0.113},
{"p":"c","b":"o","x":0.44,"c1":0.185,"c2":0.185,"c3":0.185,"c4":0.185,"c5":0.185,"c6":0.185,"c7":0.185,"c8":0.185,"c9":0.185,"c10":0.185},
{"p":"c","b":"o","x":0.48,"c1":0.25,"c2":0.255,"c3":0.265,"c4":0.28,"c5":0.27,"c6":0.265,"c7":0.28,"c8":0.275,"c9":0.255,"c10":0.245},
{"p":"c","b":"o","x":0.51,"c1":0.3,"c2":0.302,"c3":0.32,"c4":0.335,"c5":0.325,"c6":0.32,"c7":0.34,"c8":0.335,"c9":0.31,"c10":0.295},
{"p":"c","b":"o","x":0.53,"c1":0.295,"c2":0.3,"c3":0.325,"c4":0.345,"c5":0.33,"c6":0.325,"c7":0.348,"c8":0.34,"c9":0.31,"c10":0.29},
{"p":"c","b":"o","x":0.56,"c1":0.24,"c2":0.242,"c3":0.255,"c4":0.265,"c5":0.258,"c6":0.255,"c7":0.268,"c8":0.262,"c9":0.245,"c10":0.236},
{"p":"c","b":"o","x":0.6,"c1":0.185,"c2":0.185,"c3":0.185,"c4":0.185,"c5":0.185,"c6":0.185,"c7":0.185,"c8":0.185,"c9":0.185,"c10":0.185},
{"p":"c","b":"o","x":0.66,"c1":0.12,"c2":0.12,"c3":0.12,"c4":0.12,"c5":0.12,"c6":0.12,"c7":0.12,"c8":0.12,"c9":0.12,"c10":0.12},
{"p":"c","b":"o","x":0.75,"c1":0.078,"c2":0.078,"c3":0.078,"c4":0.078,"c5":0.078,"c6":0.078,"c7":0.078,"c8":0.078,"c9":0.078,"c10":0.078},
{"p":"c","b":"o","x":0.88,"c1":0.058,"c2":0.058,"c3":0.058,"c4":0.058,"c5":0.058,"c6":0.058,"c7":0.058,"c8":0.058,"c9":0.058,"c10":0.058},
{"p":"c","b":"o","x":1,"c1":0.05,"c2":0.05,"c3":0.05,"c4":0.05,"c5":0.05,"c6":0.05,"c7":0.05,"c8":0.05,"c9":0.05,"c10":0.05},
{"p":"c","b":"o","x":1.1,"c1":0.062,"c2":0.062,"c3":0.062,"c4":0.062,"c5":0.062,"c6":0.062,"c7":0.062,"c8":0.062,"c9":0.062,"c10":0.062},
{"p":"c","b":"o","x":1.17,"c1":0.098,"c2":0.098,"c3":0.098,"c4":0.098,"c5":0.098,"c6":0.098,"c7":0.098,"c8":0.098,"c9":0.098,"c10":0.098},
{"p":"c","b":"o","x":1.23,"c1":0.115,"c2":0.115,"c3":0.115,"c4":0.115,"c5":0.115,"c6":0.115,"c7":0.115,"c8":0.115,"c9":0.115,"c10":0.115},
{"p":"c","b":"o","x":1.3,"c1":0.105,"c2":0.105,"c3":0.105,"c4":0.105,"c5":0.105,"c6":0.105,"c7":0.105,"c8":0.105,"c9":0.105,"c10":0.105},
{"p":"c","b":"o","x":1.4,"c1":0.088,"c2":0.088,"c3":0.088,"c4":0.088,"c5":0.088,"c6":0.088,"c7":0.088,"c8":0.088,"c9":0.088,"c10":0.088},
{"p":"c","b":"o","x":1.55,"c1":0.075,"c2":0.075,"c3":0.075,"c4":0.075,"c5":0.075,"c6":0.075,"c7":0.075,"c8":0.075,"c9":0.075,"c10":0.075},
{"p":"c","b":"o","x":1.7,"c1":0.072,"c2":0.072,"c3":0.072,"c4":0.072,"c5":0.072,"c6":0.072,"c7":0.072,"c8":0.072,"c9":0.072,"c10":0.072},
{"p":"c","b":"o","x":1.83,"c1":0.085,"c2":0.085,"c3":0.085,"c4":0.085,"c5":0.085,"c6":0.085,"c7":0.085,"c8":0.085,"c9":0.085,"c10":0.085},
{"p":"c","b":"o","x":1.9,"c1":0.077,"c2":0.077,"c3":0.077,"c4":0.077,"c5":0.077,"c6":0.077,"c7":0.077,"c8":0.077,"c9":0.077,"c10":0.077},
{"p":"c","b":"o","x":2,"c1":0.05,"c2":0.05,"c3":0.05,"c4":0.05,"c5":0.05,"c6":0.05,"c7":0.05,"c8":0.05,"c9":0.05,"c10":0.05},
{"p":"c","b":"o","x":2.1,"c1":0.042,"c2":0.042,"c3":0.042,"c4":0.042,"c5":0.042,"c6":0.042,"c7":0.042,"c8":0.042,"c9":0.042,"c10":0.042},
{"p":"c","b":"o","x":2.25,"c1":0.041,"c2":0.041,"c3":0.041,"c4":0.041,"c5":0.041,"c6":0.041,"c7":0.041,"c8":0.041,"c9":0.041,"c10":0.041},
{"p":"c","b":"o","x":2.4,"c1":0.046,"c2":0.046,"c3":0.046,"c4":0.046,"c5":0.046,"c6":0.046,"c7":0.046,"c8":0.046,"c9":0.046,"c10":0.046},
{"p":"c","b":"o","x":2.6,"c1":0.041,"c2":0.041,"c3":0.041,"c4":0.041,"c5":0.041,"c6":0.041,"c7":0.041,"c8":0.041,"c9":0.041,"c10":0.041},
{"p":"c","b":"o","x":2.8,"c1":0.035,"c2":0.035,"c3":0.035,"c4":0.035,"c5":0.035,"c6":0.035,"c7":0.035,"c8":0.035,"c9":0.035,"c10":0.035},
{"p":"c","b":"o","x":3,"c1":0.031,"c2":0.031,"c3":0.031,"c4":0.031,"c5":0.031,"c6":0.031,"c7":0.031,"c8":0.031,"c9":0.031,"c10":0.031},

{"p":"d","b":"k","x":3,"c1":0,"c2":0.035,"c3":0.035,"c4":0.035,"c5":0.035,"c6":0.035,"c7":0.035,"c8":0.035,"c9":0.035,"c10":0.035},
{"p":"d","b":"k","x":2.9,"c1":0,"c2":0.008,"c3":0.008,"c4":0.008,"c5":0.008,"c6":0.008,"c7":0.008,"c8":0.008,"c9":0.008,"c10":0.008},
{"p":"d","b":"k","x":2.5,"c1":-0.001,"c2":0.002,"c3":0.002,"c4":0.002,"c5":0.002,"c6":0.002,"c7":0.002,"c8":0.002,"c9":0.002,"c10":0.002},
{"p":"d","b":"k","x":2,"c1":-0.002,"c2":-0.002,"c3":-0.002,"c4":-0.002,"c5":-0.002,"c6":-0.002,"c7":-0.002,"c8":-0.002,"c9":-0.002,"c10":-0.002},
{"p":"d","b":"k","x":1.6,"c1":-0.008,"c2":-0.01,"c3":-0.01,"c4":-0.01,"c5":-0.01,"c6":-0.01,"c7":-0.01,"c8":-0.01,"c9":-0.01,"c10":-0.01},
{"p":"d","b":"k","x":1.45,"c1":-0.012,"c2":-0.022,"c3":-0.022,"c4":-0.022,"c5":-0.022,"c6":-0.022,"c7":-0.022,"c8":-0.022,"c9":-0.022,"c10":-0.022},
{"p":"d","b":"k","x":1.38,"c1":-0.018,"c2":-0.035,"c3":-0.035,"c4":-0.035,"c5":-0.035,"c6":-0.035,"c7":-0.035,"c8":-0.035,"c9":-0.035,"c10":-0.035},
{"p":"d","b":"k","x":1.32,"c1":-0.026,"c2":-0.06,"c3":-0.052,"c4":-0.052,"c5":-0.052,"c6":-0.052,"c7":-0.052,"c8":-0.052,"c9":-0.052,"c10":-0.052},
{"p":"d","b":"k","x":1.26,"c1":-0.036,"c2":-0.094,"c3":-0.085,"c4":-0.082,"c5":-0.08,"c6":-0.078,"c7":-0.077,"c8":-0.075,"c9":-0.074,"c10":-0.072},
{"p":"d","b":"k","x":1.2,"c1":-0.046,"c2":-0.092,"c3":-0.088,"c4":-0.086,"c5":-0.085,"c6":-0.084,"c7":-0.083,"c8":-0.082,"c9":-0.081,"c10":-0.08},
{"p":"d","b":"k","x":1.15,"c1":-0.058,"c2":-0.084,"c3":-0.084,"c4":-0.084,"c5":-0.084,"c6":-0.084,"c7":-0.084,"c8":-0.084,"c9":-0.084,"c10":-0.084},
{"p":"d","b":"k","x":1.08,"c1":-0.07,"c2":-0.086,"c3":-0.086,"c4":-0.086,"c5":-0.086,"c6":-0.086,"c7":-0.086,"c8":-0.086,"c9":-0.086,"c10":-0.086},
{"p":"d","b":"k","x":1.02,"c1":-0.1,"c2":-0.088,"c3":-0.088,"c4":-0.088,"c5":-0.088,"c6":-0.088,"c7":-0.088,"c8":-0.088,"c9":-0.088,"c10":-0.088},
{"p":"d","b":"k","x":0.98,"c1":-0.2,"c2":-0.089,"c3":-0.089,"c4":-0.089,"c5":-0.089,"c6":-0.089,"c7":-0.089,"c8":-0.089,"c9":-0.089,"c10":-0.089},
{"p":"d","b":"k","x":0.95,"c1":-0.318,"c2":-0.09,"c3":-0.09,"c4":-0.09,"c5":-0.09,"c6":-0.09,"c7":-0.09,"c8":-0.09,"c9":-0.09,"c10":-0.09},
{"p":"d","b":"k","x":0.92,"c1":-0.28,"c2":-0.09,"c3":-0.09,"c4":-0.09,"c5":-0.09,"c6":-0.09,"c7":-0.09,"c8":-0.09,"c9":-0.09,"c10":-0.09},
{"p":"d","b":"k","x":0.88,"c1":-0.2,"c2":-0.091,"c3":-0.091,"c4":-0.091,"c5":-0.091,"c6":-0.091,"c7":-0.091,"c8":-0.091,"c9":-0.091,"c10":-0.091},
{"p":"d","b":"k","x":0.8,"c1":-0.158,"c2":-0.096,"c3":-0.096,"c4":-0.096,"c5":-0.096,"c6":-0.096,"c7":-0.096,"c8":-0.096,"c9":-0.096,"c10":-0.096},
{"p":"d","b":"k","x":0.7,"c1":-0.17,"c2":-0.115,"c3":-0.115,"c4":-0.115,"c5":-0.115,"c6":-0.115,"c7":-0.115,"c8":-0.115,"c9":-0.115,"c10":-0.115},
{"p":"d","b":"k","x":0.6,"c1":-0.226,"c2":-0.152,"c3":-0.152,"c4":-0.152,"c5":-0.152,"c6":-0.152,"c7":-0.152,"c8":-0.152,"c9":-0.152,"c10":-0.152},
{"p":"d","b":"k","x":0.5,"c1":-0.288,"c2":-0.205,"c3":-0.19,"c4":-0.19,"c5":-0.19,"c6":-0.19,"c7":-0.19,"c8":-0.19,"c9":-0.19,"c10":-0.19},
{"p":"d","b":"k","x":0.45,"c1":-0.3,"c2":-0.24,"c3":-0.203,"c4":-0.203,"c5":-0.203,"c6":-0.203,"c7":-0.203,"c8":-0.203,"c9":-0.203,"c10":-0.203},
{"p":"d","b":"k","x":0.4,"c1":-0.325,"c2":-0.255,"c3":-0.226,"c4":-0.226,"c5":-0.226,"c6":-0.226,"c7":-0.226,"c8":-0.226,"c9":-0.226,"c10":-0.226},
{"p":"d","b":"k","x":0.34,"c1":-0.37,"c2":-0.36,"c3":-0.275,"c4":-0.275,"c5":-0.275,"c6":-0.275,"c7":-0.275,"c8":-0.275,"c9":-0.275,"c10":-0.275},
{"p":"d","b":"k","x":0.3,"c1":-0.42,"c2":-0.35,"c3":-0.32,"c4":-0.325,"c5":-0.325,"c6":-0.325,"c7":-0.325,"c8":-0.325,"c9":-0.325,"c10":-0.325},
{"p":"d","b":"k","x":0.27,"c1":-0.455,"c2":-0.34,"c3":-0.36,"c4":-0.36,"c5":-0.37,"c6":-0.37,"c7":-0.36,"c8":-0.355,"c9":-0.355,"c10":-0.35},
{"p":"d","b":"k","x":0.24,"c1":-0.485,"c2":-0.335,"c3":-0.42,"c4":-0.4,"c5":-0.44,"c6":-0.425,"c7":-0.395,"c8":-0.39,"c9":-0.385,"c10":-0.38},
{"p":"d","b":"k","x":0.21,"c1":-0.487,"c2":-0.33,"c3":-0.36,"c4":-0.36,"c5":-0.38,"c6":-0.37,"c7":-0.37,"c8":-0.365,"c9":-0.36,"c10":-0.355},
{"p":"d","b":"k","x":0.18,"c1":-0.473,"c2":-0.365,"c3":-0.37,"c4":-0.375,"c5":-0.365,"c6":-0.36,"c7":-0.38,"c8":-0.37,"c9":-0.36,"c10":-0.35},
{"p":"d","b":"k","x":0.13,"c1":-0.448,"c2":-0.33,"c3":-0.3,"c4":-0.3,"c5":-0.295,"c6":-0.295,"c7":-0.3,"c8":-0.295,"c9":-0.29,"c10":-0.29},
{"p":"d","b":"k","x":0.08,"c1":-0.44,"c2":-0.31,"c3":-0.285,"c4":-0.285,"c5":-0.28,"c6":-0.28,"c7":-0.285,"c8":-0.28,"c9":-0.275,"c10":-0.272},
{"p":"d","b":"k","x":0.04,"c1":-0.47,"c2":-0.33,"c3":-0.31,"c4":-0.31,"c5":-0.31,"c6":-0.31,"c7":-0.31,"c8":-0.31,"c9":-0.31,"c10":-0.31},
{"p":"d","b":"k","x":0,"c1":-0.55,"c2":-0.375,"c3":-0.37,"c4":-0.37,"c5":-0.37,"c6":-0.37,"c7":-0.37,"c8":-0.37,"c9":-0.37,"c10":-0.37},
{"p":"d","b":"o","x":0,"c1":-0.55,"c2":-0.375,"c3":-0.37,"c4":-0.37,"c5":-0.37,"c6":-0.37,"c7":-0.37,"c8":-0.37,"c9":-0.37,"c10":-0.37},
{"p":"d","b":"o","x":0.01,"c1":-0.15,"c2":-0.1,"c3":-0.1,"c4":-0.1,"c5":-0.1,"c6":-0.1,"c7":-0.1,"c8":-0.1,"c9":-0.1,"c10":-0.1},
{"p":"d","b":"o","x":0.025,"c1":-0.015,"c2":-0.01,"c3":-0.01,"c4":-0.01,"c5":-0.01,"c6":-0.01,"c7":-0.01,"c8":-0.01,"c9":-0.01,"c10":-0.01},
{"p":"d","b":"o","x":0.05,"c1":0.015,"c2":0.015,"c3":0.015,"c4":0.015,"c5":0.015,"c6":0.015,"c7":0.015,"c8":0.015,"c9":0.015,"c10":0.015},
{"p":"d","b":"o","x":0.1,"c1":0.028,"c2":0.028,"c3":0.028,"c4":0.028,"c5":0.028,"c6":0.028,"c7":0.028,"c8":0.028,"c9":0.028,"c10":0.028},
{"p":"d","b":"o","x":0.2,"c1":0.045,"c2":0.045,"c3":0.045,"c4":0.045,"c5":0.045,"c6":0.045,"c7":0.045,"c8":0.045,"c9":0.045,"c10":0.045},
{"p":"d","b":"o","x":0.3,"c1":0.075,"c2":0.075,"c3":0.075,"c4":0.075,"c5":0.075,"c6":0.075,"c7":0.075,"c8":0.075,"c9":0.075,"c10":0.075},
{"p":"d","b":"o","x":0.38,"c1":0.118,"c2":0.118,"c3":0.118,"c4":0.118,"c5":0.118,"c6":0.118,"c7":0.118,"c8":0.118,"c9":0.118,"c10":0.118},
{"p":"d","b":"o","x":0.44,"c1":0.175,"c2":0.175,"c3":0.175,"c4":0.175,"c5":0.175,"c6":0.175,"c7":0.175,"c8":0.175,"c9":0.175,"c10":0.175},
{"p":"d","b":"o","x":0.48,"c1":0.235,"c2":0.232,"c3":0.225,"c4":0.22,"c5":0.225,"c6":0.23,"c7":0.22,"c8":0.225,"c9":0.23,"c10":0.22},
{"p":"d","b":"o","x":0.5,"c1":0.25,"c2":0.248,"c3":0.24,"c4":0.235,"c5":0.24,"c6":0.245,"c7":0.235,"c8":0.24,"c9":0.245,"c10":0.235},
{"p":"d","b":"o","x":0.53,"c1":0.22,"c2":0.22,"c3":0.215,"c4":0.212,"c5":0.215,"c6":0.218,"c7":0.212,"c8":0.215,"c9":0.218,"c10":0.21},
{"p":"d","b":"o","x":0.56,"c1":0.19,"c2":0.19,"c3":0.19,"c4":0.19,"c5":0.19,"c6":0.19,"c7":0.19,"c8":0.19,"c9":0.19,"c10":0.19},
{"p":"d","b":"o","x":0.6,"c1":0.163,"c2":0.163,"c3":0.163,"c4":0.163,"c5":0.163,"c6":0.163,"c7":0.163,"c8":0.163,"c9":0.163,"c10":0.163},
{"p":"d","b":"o","x":0.66,"c1":0.135,"c2":0.135,"c3":0.135,"c4":0.135,"c5":0.135,"c6":0.135,"c7":0.135,"c8":0.135,"c9":0.135,"c10":0.135},
{"p":"d","b":"o","x":0.75,"c1":0.11,"c2":0.105,"c3":0.105,"c4":0.105,"c5":0.105,"c6":0.105,"c7":0.105,"c8":0.105,"c9":0.105,"c10":0.105},
{"p":"d","b":"o","x":0.88,"c1":0.095,"c2":0.088,"c3":0.088,"c4":0.088,"c5":0.088,"c6":0.088,"c7":0.088,"c8":0.088,"c9":0.088,"c10":0.088},
{"p":"d","b":"o","x":1,"c1":0.092,"c2":0.09,"c3":0.085,"c4":0.085,"c5":0.085,"c6":0.085,"c7":0.085,"c8":0.085,"c9":0.085,"c10":0.085},
{"p":"d","b":"o","x":1.1,"c1":0.115,"c2":0.11,"c3":0.104,"c4":0.104,"c5":0.104,"c6":0.104,"c7":0.104,"c8":0.104,"c9":0.104,"c10":0.104},
{"p":"d","b":"o","x":1.17,"c1":0.138,"c2":0.132,"c3":0.124,"c4":0.124,"c5":0.124,"c6":0.124,"c7":0.124,"c8":0.123,"c9":0.122,"c10":0.12},
{"p":"d","b":"o","x":1.23,"c1":0.145,"c2":0.14,"c3":0.132,"c4":0.13,"c5":0.13,"c6":0.13,"c7":0.128,"c8":0.128,"c9":0.127,"c10":0.124},
{"p":"d","b":"o","x":1.3,"c1":0.14,"c2":0.134,"c3":0.125,"c4":0.125,"c5":0.125,"c6":0.125,"c7":0.124,"c8":0.123,"c9":0.122,"c10":0.12},
{"p":"d","b":"o","x":1.4,"c1":0.122,"c2":0.115,"c3":0.108,"c4":0.108,"c5":0.108,"c6":0.108,"c7":0.108,"c8":0.108,"c9":0.108,"c10":0.108},
{"p":"d","b":"o","x":1.55,"c1":0.1,"c2":0.094,"c3":0.094,"c4":0.094,"c5":0.094,"c6":0.094,"c7":0.094,"c8":0.094,"c9":0.094,"c10":0.094},
{"p":"d","b":"o","x":1.7,"c1":0.085,"c2":0.085,"c3":0.085,"c4":0.085,"c5":0.085,"c6":0.085,"c7":0.085,"c8":0.085,"c9":0.085,"c10":0.085},
{"p":"d","b":"o","x":1.83,"c1":0.082,"c2":0.082,"c3":0.082,"c4":0.082,"c5":0.082,"c6":0.082,"c7":0.082,"c8":0.082,"c9":0.082,"c10":0.082},
{"p":"d","b":"o","x":1.9,"c1":0.078,"c2":0.078,"c3":0.078,"c4":0.078,"c5":0.078,"c6":0.078,"c7":0.078,"c8":0.078,"c9":0.078,"c10":0.078},
{"p":"d","b":"o","x":2,"c1":0.066,"c2":0.066,"c3":0.066,"c4":0.066,"c5":0.066,"c6":0.066,"c7":0.066,"c8":0.066,"c9":0.066,"c10":0.066},
{"p":"d","b":"o","x":2.1,"c1":0.055,"c2":0.055,"c3":0.055,"c4":0.055,"c5":0.055,"c6":0.055,"c7":0.055,"c8":0.055,"c9":0.055,"c10":0.055},
{"p":"d","b":"o","x":2.25,"c1":0.049,"c2":0.049,"c3":0.049,"c4":0.049,"c5":0.049,"c6":0.049,"c7":0.049,"c8":0.049,"c9":0.049,"c10":0.049},
{"p":"d","b":"o","x":2.4,"c1":0.046,"c2":0.046,"c3":0.046,"c4":0.046,"c5":0.046,"c6":0.046,"c7":0.046,"c8":0.046,"c9":0.046,"c10":0.046},
{"p":"d","b":"o","x":2.6,"c1":0.042,"c2":0.042,"c3":0.042,"c4":0.042,"c5":0.042,"c6":0.042,"c7":0.042,"c8":0.042,"c9":0.042,"c10":0.042},
{"p":"d","b":"o","x":2.8,"c1":0.04,"c2":0.04,"c3":0.04,"c4":0.04,"c5":0.04,"c6":0.04,"c7":0.04,"c8":0.04,"c9":0.04,"c10":0.04},
{"p":"d","b":"o","x":3,"c1":0.038,"c2":0.038,"c3":0.038,"c4":0.038,"c5":0.038,"c6":0.038,"c7":0.038,"c8":0.038,"c9":0.038,"c10":0.038}
]},
"columns":2,
"spacing":{"column":69,"row":9},
"resolve":{"scale":{"color":"independent"},"legend":{"color":"independent"}},
"concat":[
{"width":404,"height":298,"title":{"text":"(a)","dx":-113,"offset":31},
 "layer":[
 {"data":{"name":"cv"},"transform":[{"filter":"datum.p==='a'"},{"fold":["c1","c2","c3","c4","c5","c6","c7","c8","c9","c10"],"as":["cyc","y"]}],
  "mark":{"type":"line","interpolate":"monotone","strokeWidth":1.3},
  "encoding":{
   "x":{"field":"x","type":"quantitative","scale":{"domain":[0,3],"nice":false},"axis":{"title":"E vs. Li/Li⁺ / V","values":[0,0.25,0.5,0.75,1,1.25,1.5,1.75,2,2.25,2.5,2.75,3],"labelExpr":"round(datum.value*4)%2===0 ? format(datum.value,'.1f') : ''","tickSize":{"condition":{"test":"round(datum.value*4)%2===0","value":6},"value":3},"labelPadding":3,"titlePadding":7}},
   "y":{"field":"y","type":"quantitative","scale":{"domain":[-0.6,0.5],"nice":false},"axis":{"title":"Specific Current / mA mg⁻¹","values":[-0.6,-0.5,-0.4,-0.3,-0.2,-0.1,0,0.1,0.2,0.3,0.4],"labelExpr":"round(datum.value*10)%2===0 ? replace(format(datum.value,'.1f'),'−','-') : ''","tickSize":{"condition":{"test":"round(datum.value*10)%2===0","value":6},"value":3},"labelPadding":3,"titlePadding":8}},
   "color":{"field":"cyc","type":"nominal","scale":{"domain":["c1","c2","c3","c4","c5","c6","c7","c8","c9","c10"],"range":["#111111","#e8322b","#2b2bd8","#f23cf2","#1e8c1e","#2d2d7a","#9a4be8","#8e3a8e","#6e1a1a","#a3a334"]},"legend":{"legendX":250,"legendY":186,"labelAlign":"left","labelExpr":"slice(datum.label,1) + (datum.label==='c1' ? 'ˢᵗ' : datum.label==='c2' ? 'ⁿᵈ' : datum.label==='c3' ? 'ʳᵈ' : 'ᵗʰ')"}},
   "detail":{"field":"b"}}},
 {"data":{"values":[{}]},"mark":{"type":"text","align":"left","baseline":"alphabetic"},"encoding":{"x":{"datum":0.09},"y":{"datum":0.4},"text":{"value":"1ˢᵗ-10ᵗʰ cycle"}}},
 {"data":{"values":[{}]},"mark":{"type":"text","align":"right","baseline":"alphabetic"},"encoding":{"x":{"datum":2.86},"y":{"datum":0.39},"text":{"value":"SnO₂-C"}}}
 ]},
{"width":404,"height":298,"title":{"text":"(b)","dx":-104,"offset":31},
 "layer":[
 {"data":{"name":"cv"},"transform":[{"filter":"datum.p==='b'"},{"fold":["c1","c2","c3","c4","c5","c6","c7","c8","c9","c10"],"as":["cyc","y"]}],
  "mark":{"type":"line","interpolate":"monotone","strokeWidth":1.3},
  "encoding":{
   "x":{"field":"x","type":"quantitative","scale":{"domain":[0,3],"nice":false},"axis":{"title":"E vs. Li/Li⁺ / V","values":[0,0.25,0.5,0.75,1,1.25,1.5,1.75,2,2.25,2.5,2.75,3],"labelExpr":"round(datum.value*4)%2===0 ? format(datum.value,'.1f') : ''","tickSize":{"condition":{"test":"round(datum.value*4)%2===0","value":6},"value":3},"labelPadding":3,"titlePadding":7}},
   "y":{"field":"y","type":"quantitative","scale":{"domain":[-0.6,0.5],"nice":false},"axis":{"title":"Specific Current / mA mg⁻¹","values":[-0.6,-0.5,-0.4,-0.3,-0.2,-0.1,0,0.1,0.2,0.3,0.4],"labelExpr":"round(datum.value*10)%2===0 ? replace(format(datum.value,'.1f'),'−','-') : ''","tickSize":{"condition":{"test":"round(datum.value*10)%2===0","value":6},"value":3},"labelPadding":3,"titlePadding":8}},
   "color":{"field":"cyc","type":"nominal","scale":{"domain":["c1","c2","c3","c4","c5","c6","c7","c8","c9","c10"],"range":["#111111","#e8322b","#2b2bd8","#f23cf2","#1e8c1e","#2d2d7a","#9a4be8","#8e3a8e","#6e1a1a","#a3a334"]},"legend":{"legendX":253,"legendY":173,"labelAlign":"left","labelExpr":"slice(datum.label,1) + (datum.label==='c1' ? 'ˢᵗ' : datum.label==='c2' ? 'ⁿᵈ' : datum.label==='c3' ? 'ʳᵈ' : 'ᵗʰ')"}},
   "detail":{"field":"b"}}},
 {"data":{"values":[{}]},"mark":{"type":"text","align":"left","baseline":"alphabetic"},"encoding":{"x":{"datum":0.074},"y":{"datum":0.4},"text":{"value":"1ˢᵗ-10ᵗʰ cycle"}}},
 {"data":{"values":[{}]},"mark":{"type":"text","align":"right","baseline":"alphabetic"},"encoding":{"x":{"datum":2.93},"y":{"datum":0.4},"text":{"value":"SFO-C"}}}
 ]},
{"width":404,"height":298,"title":{"text":"(c)","dx":-113,"offset":25},
 "layer":[
 {"data":{"name":"cv"},"transform":[{"filter":"datum.p==='c'"},{"fold":["c1","c2","c3","c4","c5","c6","c7","c8","c9","c10"],"as":["cyc","y"]}],
  "mark":{"type":"line","interpolate":"monotone","strokeWidth":1.3},
  "encoding":{
   "x":{"field":"x","type":"quantitative","scale":{"domain":[0,3],"nice":false},"axis":{"title":"E vs. Li/Li⁺ / V","values":[0,0.25,0.5,0.75,1,1.25,1.5,1.75,2,2.25,2.5,2.75,3],"labelExpr":"round(datum.value*4)%2===0 ? format(datum.value,'.1f') : ''","tickSize":{"condition":{"test":"round(datum.value*4)%2===0","value":6},"value":3},"labelPadding":3,"titlePadding":10}},
   "y":{"field":"y","type":"quantitative","scale":{"domain":[-0.6,0.5],"nice":false},"axis":{"title":"Specific Current / mA mg⁻¹","values":[-0.6,-0.5,-0.4,-0.3,-0.2,-0.1,0,0.1,0.2,0.3,0.4],"labelExpr":"round(datum.value*10)%2===0 ? replace(format(datum.value,'.1f'),'−','-') : ''","tickSize":{"condition":{"test":"round(datum.value*10)%2===0","value":6},"value":3},"labelPadding":3,"titlePadding":8}},
   "color":{"field":"cyc","type":"nominal","scale":{"domain":["c1","c2","c3","c4","c5","c6","c7","c8","c9","c10"],"range":["#111111","#e8322b","#2b2bd8","#f23cf2","#1e8c1e","#2d2d7a","#9a4be8","#8e3a8e","#6e1a1a","#a3a334"]},"legend":{"legendX":255,"legendY":186,"labelAlign":"left","labelExpr":"slice(datum.label,1) + (datum.label==='c1' ? 'ˢᵗ' : datum.label==='c2' ? 'ⁿᵈ' : datum.label==='c3' ? 'ʳᵈ' : 'ᵗʰ')"}},
   "detail":{"field":"b"}}},
 {"data":{"values":[{}]},"mark":{"type":"text","align":"left","baseline":"alphabetic"},"encoding":{"x":{"datum":0.12},"y":{"datum":0.4},"text":{"value":"1ˢᵗ-10ᵗʰ cycle"}}},
 {"data":{"values":[{}]},"mark":{"type":"text","align":"right","baseline":"alphabetic"},"encoding":{"x":{"datum":2.965},"y":{"datum":0.4},"text":{"value":"SMO-C"}}}
 ]},
{"width":404,"height":298,"title":{"text":"(d)","dx":-104,"offset":25},
 "layer":[
 {"data":{"name":"cv"},"transform":[{"filter":"datum.p==='d'"},{"fold":["c1","c2","c3","c4","c5","c6","c7","c8","c9","c10"],"as":["cyc","y"]}],
  "mark":{"type":"line","interpolate":"monotone","strokeWidth":1.3},
  "encoding":{
   "x":{"field":"x","type":"quantitative","scale":{"domain":[0,3],"nice":false},"axis":{"title":"E vs. Li/Li⁺ / V","values":[0,0.25,0.5,0.75,1,1.25,1.5,1.75,2,2.25,2.5,2.75,3],"labelExpr":"round(datum.value*4)%2===0 ? format(datum.value,'.1f') : ''","tickSize":{"condition":{"test":"round(datum.value*4)%2===0","value":6},"value":3},"labelPadding":3,"titlePadding":10}},
   "y":{"field":"y","type":"quantitative","scale":{"domain":[-0.6,0.5],"nice":false},"axis":{"title":"Specific Current / mA mg⁻¹","values":[-0.6,-0.5,-0.4,-0.3,-0.2,-0.1,0,0.1,0.2,0.3,0.4],"labelExpr":"round(datum.value*10)%2===0 ? replace(format(datum.value,'.1f'),'−','-') : ''","tickSize":{"condition":{"test":"round(datum.value*10)%2===0","value":6},"value":3},"labelPadding":3,"titlePadding":8}},
   "color":{"field":"cyc","type":"nominal","scale":{"domain":["c1","c2","c3","c4","c5","c6","c7","c8","c9","c10"],"range":["#111111","#e8322b","#2b2bd8","#f23cf2","#1e8c1e","#2d2d7a","#9a4be8","#8e3a8e","#6e1a1a","#a3a334"]},"legend":{"legendX":239,"legendY":172,"labelAlign":"left","labelExpr":"slice(datum.label,1) + (datum.label==='c1' ? 'ˢᵗ' : datum.label==='c2' ? 'ⁿᵈ' : datum.label==='c3' ? 'ʳᵈ' : 'ᵗʰ')"}},
   "detail":{"field":"b"}}},
 {"data":{"values":[{}]},"mark":{"type":"text","align":"left","baseline":"alphabetic"},"encoding":{"x":{"datum":0.08},"y":{"datum":0.39},"text":{"value":"1ˢᵗ-10ᵗʰ cycle"}}},
 {"data":{"values":[{}]},"mark":{"type":"text","align":"right","baseline":"alphabetic"},"encoding":{"x":{"datum":2.94},"y":{"datum":0.39},"text":{"value":"SCO-C"}}}
 ]}
]
}
